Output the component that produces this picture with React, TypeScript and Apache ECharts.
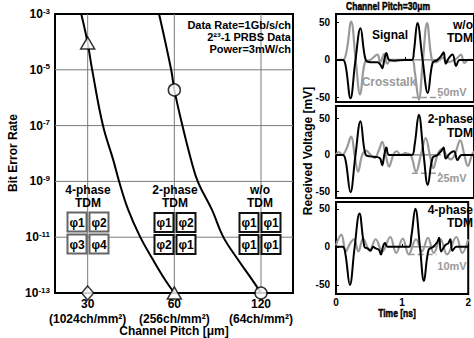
import React, { useEffect, useRef } from 'react';
import * as echarts from 'echarts';

// ---------------- Left chart: BER vs channel pitch ----------------
const pitchTicks = [30, 60, 120];
const densityLabels = ['(1024ch/mm²)', '(256ch/mm²)', '(64ch/mm²)'];
const berExponentTicks = [-13, -11, -9, -7, -5, -3];
const pitchRange = [23.1, 155];

const twoPhasePitch = [28.5, 30, 31.1, 33.9, 36.8, 38.6, 41.5, 45.6, 50.6, 55.7, 60];
const twoPhaseBER = [1e-3, 9.1e-5, 9.9e-6, 1.0e-7, 5.9e-9, 9.7e-10, 9.5e-11, 1.05e-11, 1.55e-12, 3.0e-13, 1e-13];
const noTdmPitch = [53.1, 58.5, 60, 64.0, 68.6, 72.5, 81.1, 88.6, 99.9, 111.7, 120];
const noTdmBER = [1e-3, 1e-5, 1.9e-6, 1.0e-7, 5.9e-9, 9.5e-10, 9.5e-11, 1.05e-11, 1.55e-12, 3.0e-13, 1e-13];

const fourPhaseMarkPitch = [30];
const fourPhaseMarkBER = [1e-13];
const twoPhaseMarkPitch = [30, 60];
const twoPhaseMarkBER = [9.1e-5, 1e-13];
const noTdmMarkPitch = [60, 120];
const noTdmMarkBER = [1.9e-6, 1e-13];

const infoLines = ['Data Rate=1Gb/s/ch', '2²³-1 PRBS Data', 'Power=3mW/ch'];
const fourPhaseCells = ['φ1', 'φ2', 'φ3', 'φ4'];
const twoPhaseCells = ['φ1', 'φ2', 'φ2', 'φ1'];
const noTdmCells = ['φ1', 'φ1', 'φ1', 'φ1'];

// ---------------- Right chart: received waveforms (t [ns], mV) ----------------
const voltTicks = [-50, 0, 50];
const scaleBarMv = [50, 25, 10];
const scaleBarSpan = [1.1, 1.52];

const signalNoTdm = [[0,0],[0.1,0],[0.14,-8],[0.21,-51],[0.28,-2],[0.355,42],[0.43,0],[0.5,-3],[0.6,-3],[0.64,-6],[0.67,-11],[0.7,0],[0.73,9],[0.77,0],[0.85,-1],[1.0,0],[1.1,0],[1.13,12],[1.18,49],[1.255,0],[1.33,-44],[1.4,-4],[1.47,0],[1.53,6],[1.56,10],[1.59,-5],[1.64,3],[1.69,7],[1.74,-8],[1.79,0],[1.9,0],[2.0,0]];
const crosstalkNoTdm = [[0,0],[0.1,0],[0.15,10],[0.22,51],[0.285,0],[0.35,-46],[0.42,-3],[0.5,0],[0.6,7],[0.64,-3],[0.7,8],[0.74,-5],[0.8,0],[1.1,0],[1.14,-15],[1.2,-53],[1.26,0],[1.32,49],[1.39,0],[1.45,-3],[1.55,3],[1.62,-3],[1.75,2],[1.81,7],[1.86,-4],[1.92,0],[2.0,0]];

const signal2Phase = [[0,0],[0.1,0],[0.14,-8],[0.21,-51],[0.28,-2],[0.355,46],[0.43,0],[0.5,-2],[0.6,-3],[0.64,-5],[0.67,-14],[0.7,0],[0.73,10],[0.77,0],[1.0,0],[1.1,0],[1.14,14],[1.2,55],[1.27,0],[1.33,-41],[1.4,-4],[1.47,0],[1.53,6],[1.56,10],[1.59,-5],[1.65,2],[1.71,5],[1.76,-7],[1.82,0],[2.0,0]];
const crosstalk2Phase = [[0,0],[0.04,4],[0.09,0],[0.15,8],[0.22,25],[0.27,0],[0.32,-23],[0.38,0],[0.44,6],[0.5,0],[0.56,-4],[0.62,6],[0.67,18],[0.72,0],[0.77,-16],[0.83,0],[0.88,5],[0.94,0],[1.0,2],[1.08,0],[1.16,-23],[1.23,0],[1.3,23],[1.36,0],[1.41,-18],[1.47,0],[1.53,8],[1.6,0],[1.66,-6],[1.72,0],[1.8,20],[1.86,0],[1.91,-15],[1.97,0],[2.0,5]];

const signal4Phase = [[0,0],[0.1,0],[0.14,-8],[0.21,-50],[0.28,-2],[0.355,44],[0.43,0],[0.48,-2],[0.52,-5],[0.56,0],[0.6,-2],[0.65,-4],[0.68,-10],[0.71,0],[0.74,5],[0.78,0],[1.1,0],[1.14,14],[1.2,50],[1.27,0],[1.33,-45],[1.4,-4],[1.47,0],[1.53,6],[1.56,12],[1.59,-6],[1.65,2],[1.7,5],[1.73,10],[1.76,-5],[1.82,0],[2.0,0]];
const crosstalk4Phase = [[0,2],[0.08,16],[0.15,-6],[0.21,4],[0.27,10],[0.34,-6],[0.41,11],[0.51,-5],[0.6,10],[0.7,-6],[0.82,13],[0.91,-8],[1.01,11],[1.1,-10],[1.21,10],[1.3,-6],[1.39,12],[1.48,-8],[1.58,10],[1.68,-10],[1.82,13],[1.91,-8],[2.0,10]];

const FONT = "'Liberation Sans', Arial, sans-serif";
const GRAY = '#9a9a9a';

const px = (p: number) => Math.log2(p / 30);
const py = (b: number) => Math.log10(b);
const pairs = (xs: number[], ys: number[]) => xs.map((x, i) => [px(x), py(ys[i])]);

function txt(text: string, x: number, y: number, opts: any = {}) {
  const style: any = {
    text, fill: opts.fill || '#000', fontFamily: FONT, fontWeight: 'bold',
    fontSize: opts.size || 12, align: opts.align || 'center', verticalAlign: 'middle',
  };
  if (opts.embolden) { style.stroke = opts.fill || '#000'; style.lineWidth = opts.embolden; }
  return { type: 'text', x, y, z: 101, rotation: opts.rotation || 0, scaleX: opts.scaleX || 1, style };
}

function boxGroup(cx: number, cy: number, cells: string[], stroke: string) {
  const s = 19, h = 1.5;
  const pos = [[cx - h - s, cy - h - s], [cx + h, cy - h - s], [cx - h - s, cy + h], [cx + h, cy + h]];
  const out: any[] = [];
  pos.forEach(([x, y], i) => {
    out.push({ type: 'rect', z: 100, shape: { x, y, width: s, height: s }, style: { fill: '#fff', stroke, lineWidth: 2 } });
    out.push(txt(cells[i], x + s / 2, y + s / 2 + 0.5, { size: 12 }));
  });
  return out;
}

const rightGrids = [
  { top: 14, height: 88, min: -56, max: 61 },
  { top: 106, height: 92, min: -59, max: 67 },
  { top: 202, height: 92, min: -62, max: 59 },
];
const signals = [signalNoTdm, signal2Phase, signal4Phase];
const crosstalks = [crosstalkNoTdm, crosstalk2Phase, crosstalk4Phase];

function refLine(data: number[][], axis: number, color: string, width: number, dash: any) {
  return {
    type: 'line', xAxisIndex: axis, yAxisIndex: axis, data, showSymbol: false, symbol: 'none',
    lineStyle: { color, width, type: dash }, z: 2,
  };
}

export default function App() {
  const ref = useRef<HTMLDivElement>(null);
  useEffect(() => {
    document.body.style.margin = '0';
    const chart = echarts.init(ref.current!, null, { renderer: 'svg' });

    const grids: any[] = [
      { left: 55, top: 14, width: 238, height: 279, show: true, borderColor: '#000', borderWidth: 2, backgroundColor: 'transparent' },
      ...rightGrids.map((g) => ({ left: 336, top: g.top, width: 140, height: g.height, show: true, borderColor: '#000', borderWidth: 2, backgroundColor: 'transparent' })),
    ];

    const xMin = px(pitchRange[0]);
    const xMax = px(pitchRange[1]);

    const xAxes: any[] = [
      {
        gridIndex: 0, type: 'value', min: xMin, max: xMax,
        axisLine: { show: false }, axisTick: { show: false }, splitLine: { show: false },
        axisLabel: {
          customValues: pitchTicks.map(px), margin: 3,
          formatter: (v: number) => {
            const i = Math.round(v);
            return `{a|${pitchTicks[i]}}\n{a|${densityLabels[i]}}`;
          },
          rich: { a: { fontSize: 12, fontWeight: 'bold', fontFamily: FONT, color: '#000', lineHeight: 15 } },
        },
      },
      ...rightGrids.map((g, k) => ({
        gridIndex: k + 1, type: 'value', min: 0, max: 2, interval: 1,
        axisLine: { show: false }, splitLine: { show: false },
        axisTick: { show: true, inside: true, length: 3, lineStyle: { color: '#000', width: 1 } },
        axisLabel: { show: k === 2, margin: 3, fontSize: 10, fontWeight: 'bold', fontFamily: FONT, color: '#000', formatter: (v: number) => String(v) },
      })),
    ];

    const yAxes: any[] = [
      {
        gridIndex: 0, type: 'value', min: -13, max: -3,
        axisLine: { show: false }, axisTick: { show: false }, splitLine: { show: false },
        axisLabel: {
          customValues: berExponentTicks, margin: 5,
          formatter: (v: number) => `{b|10}{s|${v}}`,
          rich: {
            b: { fontSize: 12, fontWeight: 'bold', fontFamily: FONT, color: '#000', lineHeight: 14 },
            s: { fontSize: 8, fontWeight: 'bold', fontFamily: FONT, color: '#000', lineHeight: 9, verticalAlign: 'top' },
          },
        },
      },
      ...rightGrids.map((g, k) => ({
        gridIndex: k + 1, type: 'value', min: g.min, max: g.max,
        axisLine: { show: false }, splitLine: { show: false },
        axisTick: { show: true, inside: true, length: 3, customValues: voltTicks, lineStyle: { color: '#000', width: 1 } },
        axisLabel: { customValues: voltTicks, margin: 6, fontSize: 10, fontWeight: 'bold', fontFamily: FONT, color: '#000' },
      })),
    ];

    const series: any[] = [];
    // fine grid lines of the BER plot (fine dotted in the original, rendered as thin gray)
    pitchTicks.forEach((p) => series.push(refLine([[px(p), -13], [px(p), -3]], 0, '#7a7a7a', 1, 'solid')));
    berExponentTicks.filter((e) => e > -13 && e < -3).forEach((e) => series.push(refLine([[xMin, e], [xMax, e]], 0, '#7a7a7a', 1, 'solid')));

    series.push(
      { type: 'line', xAxisIndex: 0, yAxisIndex: 0, data: pairs(twoPhasePitch, twoPhaseBER), smooth: 0.4, showSymbol: false, lineStyle: { color: '#000', width: 2 }, z: 3 },
      { type: 'line', xAxisIndex: 0, yAxisIndex: 0, data: pairs(noTdmPitch, noTdmBER), smooth: 0.4, showSymbol: false, lineStyle: { color: '#000', width: 2 }, z: 3 },
      { type: 'scatter', xAxisIndex: 0, yAxisIndex: 0, data: pairs(fourPhaseMarkPitch, fourPhaseMarkBER), symbol: 'diamond', symbolSize: [12, 14], clip: false, itemStyle: { color: '#fff', borderColor: '#000', borderWidth: 1.5 }, z: 5 },
      { type: 'scatter', xAxisIndex: 0, yAxisIndex: 0, data: pairs(twoPhaseMarkPitch, twoPhaseMarkBER), symbol: 'triangle', symbolSize: [14, 12], clip: false, itemStyle: { color: '#fff', borderColor: '#000', borderWidth: 1.5 }, z: 5 },
      { type: 'scatter', xAxisIndex: 0, yAxisIndex: 0, data: pairs(noTdmMarkPitch, noTdmMarkBER), symbol: 'circle', symbolSize: 12, clip: false, itemStyle: { color: '#fff', borderColor: '#000', borderWidth: 1.5 }, z: 5 },
    );

    rightGrids.forEach((g, k) => {
      const a = k + 1;
      series.push(refLine([[scaleBarSpan[0], -scaleBarMv[k]], [scaleBarSpan[1], -scaleBarMv[k]]], a, GRAY, 1.5, 'dashed'));
      series.push(refLine([[scaleBarSpan[0], 0], [scaleBarSpan[1], 0]], a, '#555', 1, 'solid'));
      series.push({
        type: 'line', xAxisIndex: a, yAxisIndex: a, data: crosstalks[k], smooth: 0.4, showSymbol: false,
        lineStyle: { color: GRAY, width: 2.2 }, z: 3,
      });
      series.push({
        type: 'line', xAxisIndex: a, yAxisIndex: a, data: signals[k], smooth: 0.4, showSymbol: false,
        lineStyle: { color: '#000', width: 2 }, z: 4,
      });
    });

    const graphic: any[] = [
      txt('Bit Error Rate', 13, 153, { rotation: Math.PI / 2 }),
      txt('Channel Pitch [μm]', 174, 331),
      ...infoLines.map((t, i) => txt(t, 291, 25 + i * 12, { align: 'right', size: 11 })),
      txt('4-phase', 88, 190), txt('TDM', 88, 203),
      txt('2-phase', 175, 190), txt('TDM', 175, 203),
      txt('w/o', 260, 190), txt('TDM', 260, 203),
      ...boxGroup(88, 233, fourPhaseCells, '#666'),
      ...boxGroup(175, 233.5, twoPhaseCells, '#111'),
      ...boxGroup(260, 233.5, noTdmCells, '#111'),
      txt('Channel Pitch=30μm', 388, 6, { size: 11.5, scaleX: 0.74, embolden: 0.5 }),
      txt('Received Voltage [mV]', 308, 151, { rotation: Math.PI / 2 }),
      txt('Time [ns]', 397, 313, { size: 11.5, scaleX: 0.74, embolden: 0.5 }),
      txt('Signal', 390, 35),
      txt('w/o', 473, 25, { align: 'right' }), txt('TDM', 473, 38, { align: 'right' }),
      txt('Crosstalk', 389, 82, { fill: GRAY }),
      txt('50mV', 452, 92, { fill: GRAY, size: 11 }),
      txt('2-phase', 473, 119, { align: 'right' }), txt('TDM', 473, 133, { align: 'right' }),
      txt('25mV', 452, 178, { fill: GRAY, size: 11 }),
      txt('4-phase', 473, 210, { align: 'right' }), txt('TDM', 473, 223, { align: 'right' }),
      txt('10mV', 452, 266, { fill: GRAY, size: 11 }),
    ];

    chart.setOption({
      animation: false,
      backgroundColor: '#fff',
      textStyle: { fontFamily: FONT },
      grid: grids,
      xAxis: xAxes,
      yAxis: yAxes,
      series,
      graphic,
    });
    return () => chart.dispose();
  }, []);
  return <div ref={ref} style={{ width: 474, height: 338 }} />;
}
